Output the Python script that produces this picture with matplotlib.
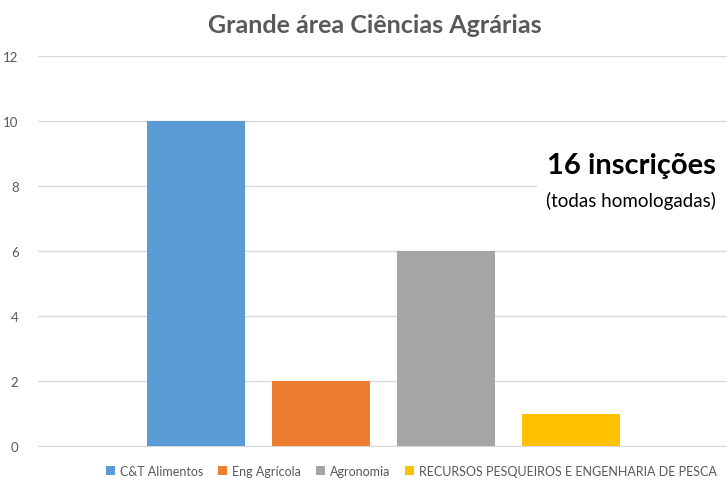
import matplotlib.pyplot as plt
from matplotlib.patches import Rectangle

plt.rcParams['font.family'] = ['Lato', 'DejaVu Sans']

title = "Grande área Ciências Agrárias"
series = ["C&T Alimentos", "Eng Agrícola", "Agronomia",
          "RECURSOS PESQUEIROS E ENGENHARIA DE PESCA"]
values = [10, 2, 6, 1]
colors = ["#5B9BD5", "#ED7D31", "#A5A5A5", "#FFC000"]
yticks = [0, 2, 4, 6, 8, 10, 12]

fig = plt.figure(figsize=(7.27, 4.81), dpi=100)
ax = fig.add_axes([38 / 727, 1 - 447 / 481, 1 - 38 / 727, (447 - 57) / 481])

for i, (name, v, c) in enumerate(zip(series, values, colors)):
    ax.bar(i, v, width=0.784, color=c, label=name, zorder=3)

ax.set_xlim(-1.264, 4.248)
ax.set_ylim(0, 12)
ax.set_yticks(yticks)
ax.set_xticks([])
ax.yaxis.grid(True, color="#D9D9D9", linewidth=1, zorder=0)
for s in ["top", "right", "left"]:
    ax.spines[s].set_visible(False)
ax.spines["bottom"].set_color("#D9D9D9")
ax.tick_params(axis="y", length=0, pad=14, labelsize=9.5, labelcolor="#595959")

fig.text(0.516, 0.948, title, ha="center", va="center", fontsize=18,
         fontweight="bold", color="#595959")

# white box of the text annotation, hiding the gridline below it
fig.patches.append(Rectangle((537 / 727, 1 - 222 / 481), 190 / 727, 75 / 481,
                             transform=fig.transFigure, facecolor="white",
                             edgecolor="none", zorder=5))
fig.text(631 / 727, 1 - 166 / 481, "16 inscrições", ha="center", va="center",
         fontsize=21, fontweight="bold", color="black", zorder=6)
fig.text(631 / 727, 1 - 201 / 481, "(todas homologadas)", ha="center",
         va="center", fontsize=13.5, color="black", zorder=6)

ax.legend(loc="upper center", bbox_to_anchor=(0.542, -0.02), ncol=4,
          frameon=False, fontsize=9, handlelength=0.7, handleheight=0.7,
          handletextpad=0.4, columnspacing=1.2, labelcolor="#595959")

fig.savefig("out.png", dpi=100)
